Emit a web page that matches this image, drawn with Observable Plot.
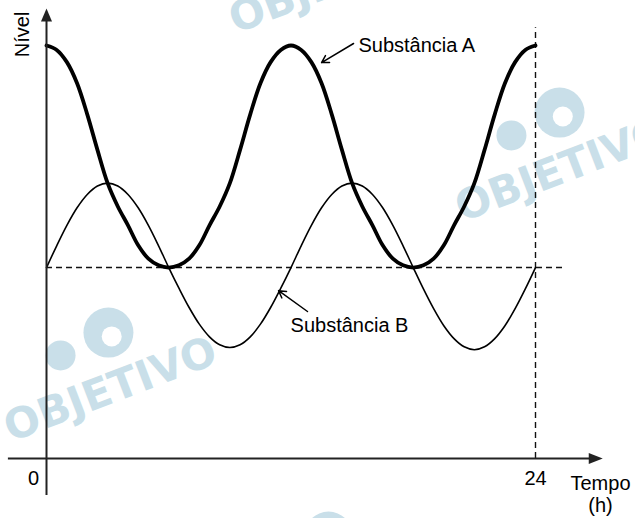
<!DOCTYPE html>
<html><head><meta charset="utf-8">
<script src="https://cdn.jsdelivr.net/npm/d3@7"></script>
<script src="https://cdn.jsdelivr.net/npm/@observablehq/plot@0.6"></script>
<style>html,body{margin:0;padding:0;background:#fff}#chart svg{display:block}</style>
</head><body><div id="chart"></div>
<script>
// Time axis (hours)
const hours = [0,0.5,1,1.5,2,2.5,3,3.5,4,4.5,5,5.5,6,6.5,7,7.5,8,8.5,9,9.5,10,10.5,11,11.5,12,
  12.5,13,13.5,14,14.5,15,15.5,16,16.5,17,17.5,18,18.5,19,19.5,20,20.5,21,21.5,22,22.5,23,23.5,24];
// Substância A level (baseline = 0, peak = 10)
const substanceA = [10,9.8,9.25,8.3,6.9,5.3,3.8,2.75,1.9,1.0,0.4,0.1,0,0.1,0.4,1.0,1.9,2.75,3.8,5.3,6.9,8.3,9.25,9.8,10,
  9.8,9.25,8.3,6.9,5.3,3.8,2.75,1.9,1.0,0.4,0.1,0,0.1,0.4,1.0,1.9,2.75,3.8,5.3,6.9,8.3,9.25,9.8,10];
// Substância B level
const substanceB = [0,0.98,1.9,2.69,3.29,3.67,3.8,3.67,3.29,2.69,1.9,0.98,0,-0.93,-1.8,-2.55,-3.12,-3.48,-3.6,-3.48,-3.12,-2.55,-1.8,-0.93,0,
  0.98,1.9,2.69,3.29,3.67,3.8,3.67,3.29,2.69,1.9,0.98,0,-0.96,-1.85,-2.62,-3.2,-3.57,-3.7,-3.57,-3.2,-2.62,-1.85,-0.96,0];

const baselineLevel = 0;
const endHour = 24;
const tickLabels = [{t: 0, label: "0"}, {t: 24, label: "24"}];

// annotation anchors (data units)
const axisX = {from: -1.87, to: 27.3, level: -8.6};
const axisY = {from: -10.27, to: 11.67, hour: 0};
const baselineEnd = 25.47;
const endLineTop = 10.8;
const seriesLabels = [
  {t: 15.31, v: 10.0, text: "Substância A"},
  {t: 11.98, v: -2.61, text: "Substância B"}
];
const pointers = [
  {t1: 15.07, v1: 10.09, t2: 13.5, v2: 9.23},
  {t1: 12.81, v1: -1.98, t2: 11.39, v2: -1.04}
];
const axisTitles = [
  {t: -1.18, v: 10.5, text: "Nível", rotate: -90},
  {t: 27.19, v: -9.73, text: "Tempo", rotate: 0},
  {t: 27.19, v: -10.72, text: "(h)", rotate: 0}
];
const watermarkWords = [
  {t: 3.14, v: -5.5}, {t: 25.28, v: 4.41}, {t: 14.18, v: 12.9}
];
const watermarkDiscs = [
  {t: 3.04, v: -2.93, r: 25}, {t: 0.69, v: -3.96, r: 15},
  {t: 25.18, v: 6.98, r: 25}, {t: 22.82, v: 5.95, r: 15},
  {t: 13.84, v: -12.07, r: 24}
];
const watermarkHoles = [
  {t: 3.2, v: -3.1, r: 10}, {t: 25.34, v: 6.8, r: 10}
];

const rows = hours.map((t, i) => ({t, a: substanceA[i], b: substanceB[i]}));

const arrowRight = {draw(c){ c.moveTo(0,0); c.lineTo(-14,-5.5); c.lineTo(-14,5.5); c.closePath(); }};
const arrowUp = {draw(c){ c.moveTo(0,0); c.lineTo(-5.5,13); c.lineTo(5.5,13); c.closePath(); }};

const wm = "#c9dfe9";
const axisColor = "#222";
const font = "Liberation Sans";

const chart = Plot.plot({
  width: 635,
  height: 518,
  x: {domain: [0, 24], range: [46, 535], axis: null},
  y: {domain: [-8.6, 10], range: [458, 45], axis: null},
  r: {type: "identity"},
  style: {background: "#fff"},
  marks: [
    // watermark
    Plot.dot(watermarkDiscs, {x: "t", y: "v", r: "r", fill: wm, stroke: "none"}),
    Plot.dot(watermarkHoles, {x: "t", y: "v", r: "r", fill: "#fff", stroke: "none"}),
    Plot.text(watermarkWords, {x: "t", y: "v", text: () => "OBJETIVO", rotate: -21, fill: wm,
      fontSize: 42, fontWeight: 900, fontFamily: "DejaVu Sans", letterSpacing: -1}),
    // dashed guides
    Plot.ruleY([baselineLevel], {x1: 0, x2: baselineEnd, stroke: "#111", strokeWidth: 1.4, strokeDasharray: "6,4"}),
    Plot.ruleX([endHour], {y1: axisX.level, y2: endLineTop, stroke: "#111", strokeWidth: 1.4, strokeDasharray: "6,4"}),
    // curves
    Plot.line(rows, {x: "t", y: "b", stroke: "#000", strokeWidth: 1.6, curve: "catmull-rom"}),
    Plot.line(rows, {x: "t", y: "a", stroke: "#000", strokeWidth: 3.8, curve: "catmull-rom"}),
    // axes
    Plot.ruleY([axisX.level], {x1: axisX.from, x2: axisX.to - 0.5, stroke: axisColor, strokeWidth: 2}),
    Plot.ruleX([axisY.hour], {y1: axisY.from, y2: axisY.to - 0.4, stroke: axisColor, strokeWidth: 2}),
    Plot.dot([{t: axisX.to, v: axisX.level}], {x: "t", y: "v", symbol: arrowRight, fill: axisColor, stroke: "none", r: 5}),
    Plot.dot([{t: axisY.hour, v: axisY.to}], {x: "t", y: "v", symbol: arrowUp, fill: axisColor, stroke: "none", r: 5}),
    // tick labels
    Plot.text(tickLabels, {x: d => d.t === 0 ? -0.64 : d.t, y: () => -9.5, text: "label", fontSize: 20, fontFamily: font, fill: "#000"}),
    // axis titles
    Plot.text(axisTitles, {x: "t", y: "v", text: "text", rotate: "rotate", fontSize: 20, fontFamily: font, fill: "#000"}),
    // series labels and pointers
    Plot.text(seriesLabels, {x: "t", y: "v", text: "text", textAnchor: "start", fontSize: 20, fontFamily: font, fill: "#000"}),
    Plot.arrow(pointers, {x1: "t1", y1: "v1", x2: "t2", y2: "v2", stroke: "#000", strokeWidth: 1.5, headLength: 8})
  ]
});
document.getElementById("chart").appendChild(chart);
</script>
</body></html>
